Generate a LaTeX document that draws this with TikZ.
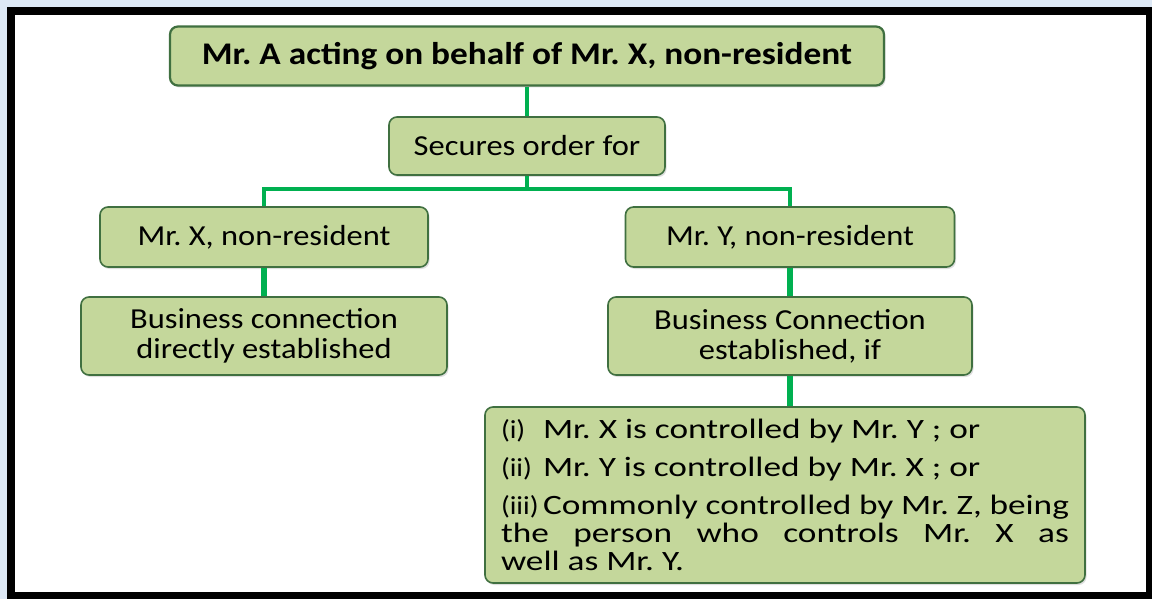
\documentclass[tikz,border=0pt]{standalone}
\usepackage{fontspec}
\setmainfont{Carlito}[FakeStretch=1.12]
\newfontfamily\listfont{Carlito}[FakeStretch=1.26]
\usetikzlibrary{shadows}

\definecolor{boxfill}{RGB}{196,215,155}
\definecolor{boxline}{RGB}{64,112,64}
\definecolor{linkgreen}{RGB}{0,176,80}
\definecolor{pageblue}{RGB}{221,232,245}
\frenchspacing
\newcommand{\itemlabel}[1]{\makebox[42pt][l]{\rmfamily\fontsize{26}{28}\selectfont #1}}

\begin{document}
\begin{tikzpicture}[x=1pt, y=-1pt,
    box/.style={draw=boxline, line width=1.6pt, fill=boxfill, rounded corners=8pt, align=center, inner sep=0pt,
        font=\fontsize{29}{30}\selectfont,
        drop shadow={opacity=0.25, shadow xshift=1.5pt, shadow yshift=-2pt}},
    link/.style={draw=linkgreen, line width=4pt},
    thicklink/.style={draw=linkgreen, line width=6pt}]

    % Frame
    \useasboundingbox (0,0) rectangle (1152,599);
    \fill[pageblue] (0,0) rectangle (1152,599);
    \fill[black] (7,7) rectangle (1152,599);
    \fill[white] (15,15) rectangle (1146,592);

    % Node definitions
    \node (head) at (527,56) [box, line width=2.2pt, minimum width=714pt, minimum height=59pt, font=\fontsize{31.5}{32}\selectfont\bfseries] {Mr. A acting on behalf of Mr. X, non-resident};
    \node (order) at (527,146) [box, minimum width=276pt, minimum height=58pt] {Secures order for};
    \node (mrx) at (264,237) [box, minimum width=328pt, minimum height=60pt] {Mr. X, non-resident};
    \node (mry) at (790,237) [box, minimum width=329pt, minimum height=60pt] {Mr. Y, non-resident};
    \node (bcx) at (264,336) [box, minimum width=366pt, minimum height=78pt] {Business connection\\directly established};
    \node (bcy) at (790,336) [box, minimum width=364pt, minimum height=78pt] {Business Connection\\established, if};
    \node (cond) at (785,495) [box, minimum width=600pt, minimum height=176pt, text width=568pt, align=justify,
        font=\listfont\fontsize{28}{28}\selectfont] {%
        \itemlabel{(i)}Mr. X is controlled by Mr. Y ; or\par\vspace{10pt}
        \itemlabel{(ii)}Mr. Y is controlled by Mr. X ; or\par\vspace{10pt}
        \hangindent=42pt\hangafter=1\itemlabel{(iii)}Commonly controlled by Mr. Z, being\linebreak
        the person who controls Mr. X as\linebreak well as Mr. Y.};

    % Edge definitions
    \coordinate (split) at (527,189);
    \draw[link] (head) -- (order);
    \draw[link] (order) -- (split);
    \draw[link] (split) -| (mrx);
    \draw[link] (split) -| (mry);
    \draw[thicklink] (mrx) -- (bcx);
    \draw[thicklink] (mry) -- (bcy);
    \draw[thicklink] (bcy) -- (bcy |- cond.north);
\end{tikzpicture}
\end{document}
